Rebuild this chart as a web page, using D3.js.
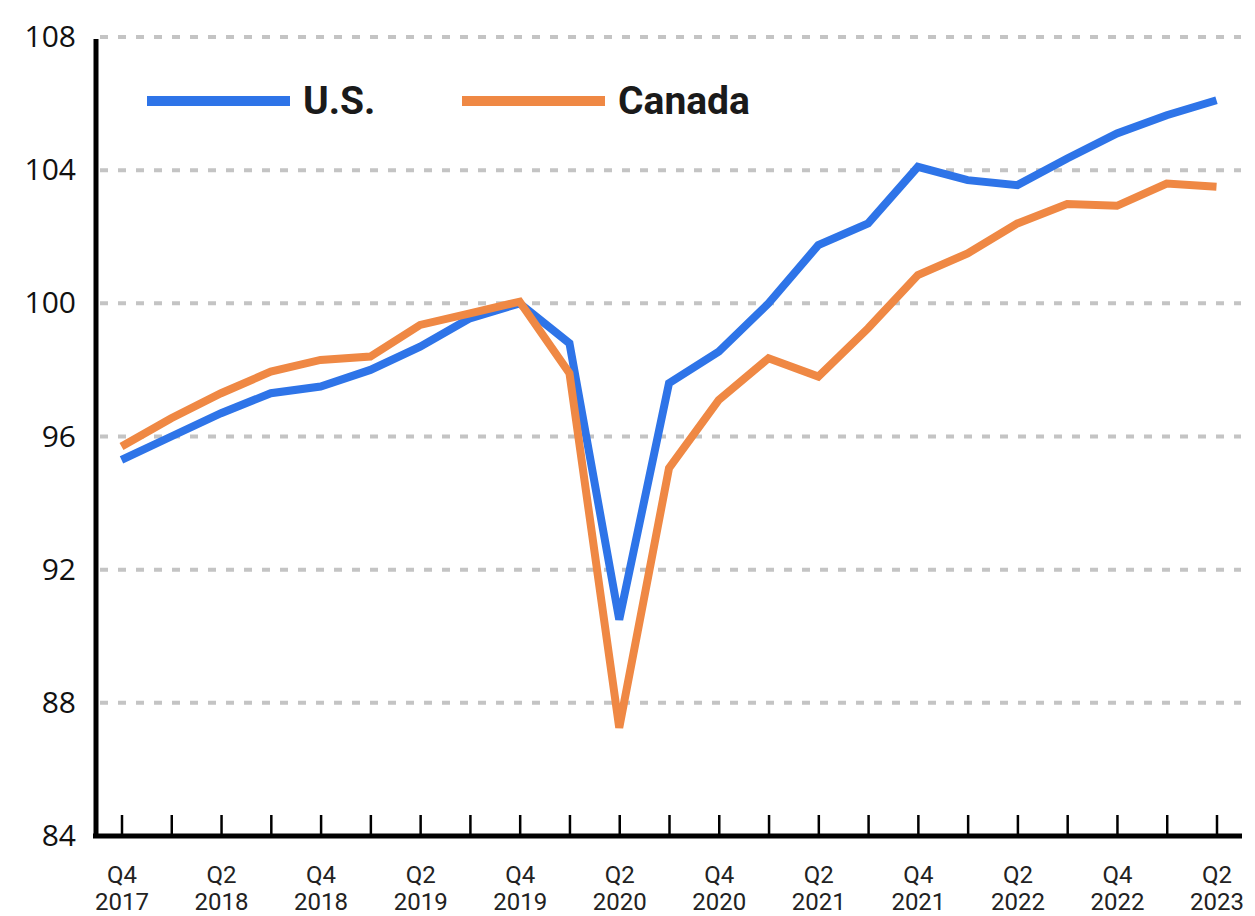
<!DOCTYPE html>
<html lang="en">
<head>
    <meta charset="utf-8">
    <title>U.S. vs Canada</title>
    <script type="text/javascript" src="https://d3js.org/d3.v7.min.js"></script>
    <style type="text/css">
        body { margin: 0; overflow: hidden; background: #fff; }
        svg { display: block; }
    </style>
</head>
<body>
    <script type="text/javascript">
        // quarters along the x axis
        var quarters = ["Q4 2017", "Q1 2018", "Q2 2018", "Q3 2018", "Q4 2018", "Q1 2019", "Q2 2019", "Q3 2019",
            "Q4 2019", "Q1 2020", "Q2 2020", "Q3 2020", "Q4 2020", "Q1 2021", "Q2 2021", "Q3 2021",
            "Q4 2021", "Q1 2022", "Q2 2022", "Q3 2022", "Q4 2022", "Q1 2023", "Q2 2023"];

        // index values, Q4 2019 = 100
        var usValues = [95.3, 96.0, 96.7, 97.3, 97.5, 98.0, 98.7, 99.55,
            100.0, 98.8, 90.5, 97.6, 98.55, 100.0, 101.75, 102.4,
            104.1, 103.7, 103.55, 104.35, 105.1, 105.65, 106.1];
        var canadaValues = [95.7, 96.55, 97.3, 97.95, 98.3, 98.4, 99.35, 99.7,
            100.05, 97.9, 87.25, 95.05, 97.1, 98.35, 97.8, 99.25,
            100.85, 101.5, 102.4, 102.98, 102.93, 103.6, 103.5];

        var yTicks = [84, 88, 92, 96, 100, 104, 108];
        var seriesNames = ["U.S.", "Canada"];
        var seriesColors = ["#2e74e8", "#ef8844"];

        var width = 1255, height = 916;

        var svg = d3.select("body").append("svg")
            .attr("width", width)
            .attr("height", height);

        var x = d3.scaleLinear().domain([0, quarters.length - 1]).range([121.5, 1216.5]);
        var y = d3.scaleLinear().domain([84, 108]).range([836, 37]);

        // dashed gridlines
        svg.append("g")
            .selectAll("line")
            .data(yTicks.filter(function(d) { return d > 84; }))
            .enter().append("line")
            .attr("x1", 100)
            .attr("x2", 1241)
            .attr("y1", function(d) { return y(d); })
            .attr("y2", function(d) { return y(d); })
            .attr("stroke", "#c4c4c4")
            .attr("stroke-width", 4)
            .attr("stroke-dasharray", "8,10");

        // y axis
        var yAxis = svg.append("g")
            .attr("transform", "translate(96,0)")
            .call(d3.axisLeft(y).tickValues(yTicks).tickSize(0).tickPadding(20));
        yAxis.select(".domain").remove();
        yAxis.selectAll("text")
            .attr("font-family", "'Open Sans', sans-serif")
            .attr("font-size", 30)
            .attr("fill", "#111");
        svg.append("line")
            .attr("x1", 96).attr("x2", 96)
            .attr("y1", y(108) + 2).attr("y2", y(84) + 2)
            .attr("stroke", "#000")
            .attr("stroke-width", 5);

        // x axis with ticks pointing up
        var xAxis = svg.append("g")
            .attr("transform", "translate(0," + y(84) + ")")
            .call(d3.axisBottom(x)
                .tickValues(d3.range(quarters.length))
                .tickSize(-21)
                .tickFormat(function(i) { return i % 2 === 0 ? quarters[i] : ""; }));
        xAxis.select(".domain").remove();
        xAxis.selectAll(".tick line")
            .attr("stroke", "#000")
            .attr("stroke-width", 2.5);
        xAxis.selectAll(".tick text")
            .attr("font-family", "Roboto, sans-serif")
            .attr("font-size", 24)
            .attr("fill", "#222")
            .each(function(i) {
                var t = d3.select(this);
                var parts = t.text().split(" ");
                t.text(null).attr("y", 0).attr("dy", null);
                if (parts.length < 2) return;
                t.append("tspan").attr("x", 0).attr("y", 47).text(parts[0]);
                t.append("tspan").attr("x", 0).attr("y", 74).text(parts[1]);
            });
        svg.append("line")
            .attr("x1", 93).attr("x2", 1242)
            .attr("y1", y(84)).attr("y2", y(84))
            .attr("stroke", "#000")
            .attr("stroke-width", 5);

        // lines
        var line = d3.line()
            .x(function(d, i) { return x(i); })
            .y(function(d) { return y(d); });

        [usValues, canadaValues].forEach(function(vals, k) {
            svg.append("path")
                .datum(vals)
                .attr("fill", "none")
                .attr("stroke", seriesColors[k])
                .attr("stroke-width", 8)
                .attr("stroke-linejoin", "miter")
                .attr("d", line);
        });

        // legend
        var legendX = [147, 462];
        var legend = svg.append("g");
        seriesNames.forEach(function(name, k) {
            legend.append("line")
                .attr("x1", legendX[k]).attr("x2", legendX[k] + 143)
                .attr("y1", 101).attr("y2", 101)
                .attr("stroke", seriesColors[k])
                .attr("stroke-width", 10);
            legend.append("text")
                .attr("x", legendX[k] + 156)
                .attr("y", 114)
                .attr("font-family", "Roboto, sans-serif")
                .attr("font-weight", "bold")
                .attr("font-size", 39)
                .attr("fill", "#1a1a1a")
                .text(name);
        });
    </script>
</body>
</html>
